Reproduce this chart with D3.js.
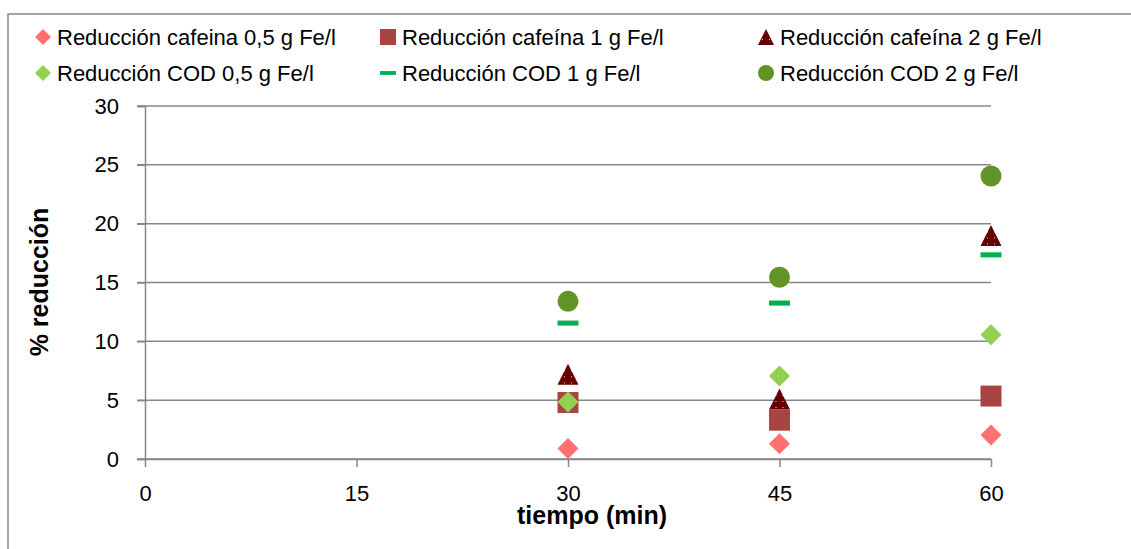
<!DOCTYPE html>
<html>
<head>
<meta charset="utf-8">
<script src="https://cdn.jsdelivr.net/npm/d3@7"></script>
<style>
  body { margin: 0; background: #fff; }
  svg { font-family: "Liberation Sans", Arial, sans-serif; }
</style>
</head>
<body>
<svg width="1131" height="549"></svg>
<script>
// data
const tiempo = [30, 45, 60];
const cafeina05 = [0.9, 1.3, 2.05];
const cafeina1 = [4.8, 3.3, 5.35];
const cafeina2 = [7.2, 5.1, 19.0];
const cod05 = [4.85, 7.05, 10.55];
const cod1 = [11.55, 13.25, 17.35];
const cod2 = [13.4, 15.45, 24.05];

const seriesNames = [
  "Reducción cafeina 0,5 g Fe/l",
  "Reducción cafeína 1 g Fe/l",
  "Reducción cafeína 2 g Fe/l",
  "Reducción COD 0,5 g Fe/l",
  "Reducción COD 1 g Fe/l",
  "Reducción COD 2 g Fe/l"
];
const xTicks = [0, 15, 30, 45, 60];
const yTicks = [0, 5, 10, 15, 20, 25, 30];

const series = [
  { name: seriesNames[0], values: cafeina05, shape: "diamond", color: "#FF7171" },
  { name: seriesNames[1], values: cafeina1, shape: "square", color: "#A84542" },
  { name: seriesNames[2], values: cafeina2, shape: "triangle", color: "#660000" },
  { name: seriesNames[3], values: cod05, shape: "diamond", color: "#92D050" },
  { name: seriesNames[4], values: cod1, shape: "dash", color: "#00B050" },
  { name: seriesNames[5], values: cod2, shape: "circle", color: "#629428" }
];

const svg = d3.select("svg");
const gridColor = "#878787";

const x = d3.scaleLinear().domain([0, 60]).range([145, 991]);
const y = d3.scaleLinear().domain([0, 30]).range([459, 106]);

// dotted fill for the triangle marker
const pat = svg.append("defs").append("pattern")
  .attr("id", "dots")
  .attr("patternUnits", "userSpaceOnUse")
  .attr("width", 7).attr("height", 6);
pat.append("rect").attr("width", 7).attr("height", 6).attr("fill", "#660000");
pat.append("rect").attr("x", 3).attr("y", 2).attr("width", 1).attr("height", 1).attr("fill", "#f0d0d0");

// chart border (right and bottom edges fall outside the picture)
svg.append("rect")
  .attr("x", 8).attr("y", 14)
  .attr("width", 1300).attr("height", 700)
  .attr("fill", "none")
  .attr("stroke", gridColor)
  .attr("stroke-width", 1.5);

// gridlines
svg.append("g")
  .selectAll("line")
  .data(yTicks)
  .enter().append("line")
  .attr("x1", 137).attr("x2", x(60))
  .attr("y1", (d) => y(d)).attr("y2", (d) => y(d))
  .attr("stroke", gridColor)
  .attr("stroke-width", 1.5);

// y axis
const yAxis = svg.append("g")
  .attr("transform", "translate(" + x(0) + ",0)")
  .call(d3.axisLeft(y).tickValues(yTicks).tickSize(8).tickPadding(18));
yAxis.select(".domain").attr("stroke", gridColor).attr("stroke-width", 1.5);
yAxis.selectAll(".tick line").attr("stroke", gridColor).attr("stroke-width", 1.5);
yAxis.selectAll("text")
  .attr("font-size", 22)
  .attr("font-family", "Liberation Sans, Arial, sans-serif")
  .attr("fill", "#000");

// x axis
const xAxis = svg.append("g")
  .attr("transform", "translate(0," + y(0) + ")")
  .call(d3.axisBottom(x).tickValues(xTicks).tickSize(8).tickSizeOuter(0).tickPadding(18));
xAxis.select(".domain").attr("stroke", gridColor).attr("stroke-width", 1.5);
xAxis.selectAll(".tick line").attr("stroke", gridColor).attr("stroke-width", 1.5);
xAxis.selectAll("text")
  .attr("font-size", 22)
  .attr("font-family", "Liberation Sans, Arial, sans-serif")
  .attr("fill", "#000");

// axis titles
svg.append("text")
  .attr("transform", "translate(48,282) rotate(-90)")
  .attr("text-anchor", "middle")
  .attr("font-size", 25)
  .attr("font-weight", "bold")
  .text("% reducción");

svg.append("text")
  .attr("x", 592).attr("y", 524)
  .attr("text-anchor", "middle")
  .attr("font-size", 25)
  .attr("font-weight", "bold")
  .text("tiempo (min)");

// marker drawing
function drawMarker(sel, shape, color, s) {
  const h = s / 2;
  if (shape === "diamond") {
    sel.append("path")
      .attr("d", "M0," + (-h) + "L" + h + ",0L0," + h + "L" + (-h) + ",0Z")
      .attr("fill", color);
  } else if (shape === "square") {
    sel.append("rect")
      .attr("x", -h).attr("y", -h).attr("width", s).attr("height", s)
      .attr("fill", color);
  } else if (shape === "triangle") {
    sel.append("path")
      .attr("d", "M0," + (-h) + "L" + h + "," + h + "L" + (-h) + "," + h + "Z")
      .attr("fill", "url(#dots)");
  } else if (shape === "dash") {
    sel.append("rect")
      .attr("x", -h).attr("y", -s * 0.12).attr("width", s).attr("height", s * 0.24)
      .attr("fill", color);
  } else {
    sel.append("circle").attr("r", h).attr("fill", color);
  }
}

// points
series.forEach((s) => {
  svg.append("g")
    .selectAll("g")
    .data(s.values.map((v, i) => ({ t: tiempo[i], v: v })))
    .enter().append("g")
    .attr("transform", (d) => "translate(" + x(d.t) + "," + y(d.v) + ")")
    .each(function () { drawMarker(d3.select(this), s.shape, s.color, 21); });
});

// legend
const legCols = [43, 388, 766];
const legRows = [37, 73];
const legend = svg.append("g")
  .selectAll("g")
  .data(series)
  .enter().append("g")
  .attr("transform", (d, i) => "translate(" + legCols[i % 3] + "," + legRows[Math.floor(i / 3)] + ")");
legend.each(function (d) { drawMarker(d3.select(this), d.shape, d.color, 16); });
legend.append("text")
  .attr("x", 14)
  .attr("dy", "0.36em")
  .attr("font-size", 22)
  .attr("fill", "#000")
  .text((d) => d.name);
</script>
</body>
</html>
